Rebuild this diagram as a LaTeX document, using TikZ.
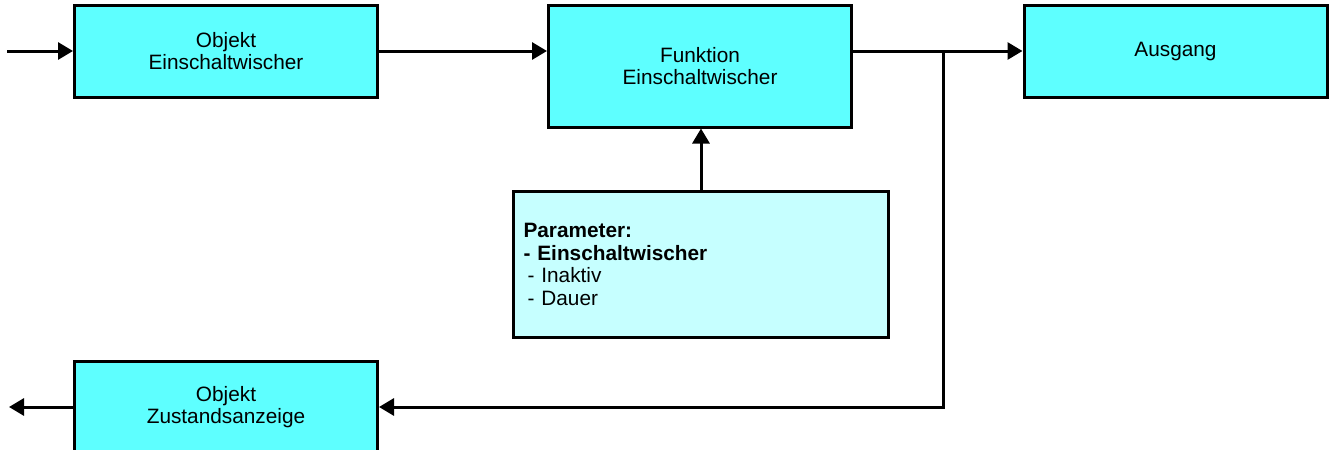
\documentclass[tikz,border=0pt]{standalone}
\usepackage{fontspec}
\setmainfont{Liberation Sans}
\usetikzlibrary{arrows.meta}
\definecolor{boxcyan}{HTML}{5EFFFF}
\definecolor{parcyan}{HTML}{C6FFFF}
\tikzset{
  block/.style={draw, line width=1.5pt, fill=boxcyan, minimum width=151.5pt,
    minimum height=46pt, inner sep=0pt, align=center,
    font=\fontsize{10.4}{11.3}\selectfont},
  flow/.style={line width=1.5pt, -{Triangle[length=7.5pt,width=8.5pt]}}
}
\begin{document}
\begin{tikzpicture}[x=0.5pt,y=-0.5pt]
        \useasboundingbox (0,0) rectangle (1329,450);
        % blocks
        \node[block] (objin) at (226,51) {Objekt\\Einschaltwischer};
        \node[block, minimum height=61pt] (func) at (700,66) {Funktion\\Einschaltwischer};
        \node[block] (ausgang) at (1175.5,51) {\raisebox{-2.5pt}{Ausgang}};
        \node[block, fill=parcyan, minimum width=187.5pt, minimum height=73pt,
          inner xsep=5pt, text width=177.5pt, align=left] (param) at (701,264.5)
          {\textbf{Parameter:}\\\textbf{- Einschaltwischer}\\\hspace{2pt}- Inaktiv\\\hspace{2pt}- Dauer};
        \node[block] (objout) at (226,407) {Objekt\\Zustandsanzeige};
        % free ends
        \coordinate (in) at (7,51);
        \coordinate (out) at (9,407);
        \coordinate (split) at (943,51);
        % connectors
        \draw[flow] (in) -- (objin);
        \draw[flow] (objin.east) -- (objin.east -| func.west);
        \draw[flow] (func.east |- ausgang.west) -- (ausgang.west);
        \draw[flow] (param.north) -- (param.north |- func.south);
        \draw[flow] (split) |- (objout.east);
        \draw[flow] (objout) -- (out);
    \end{tikzpicture}
\end{document}
